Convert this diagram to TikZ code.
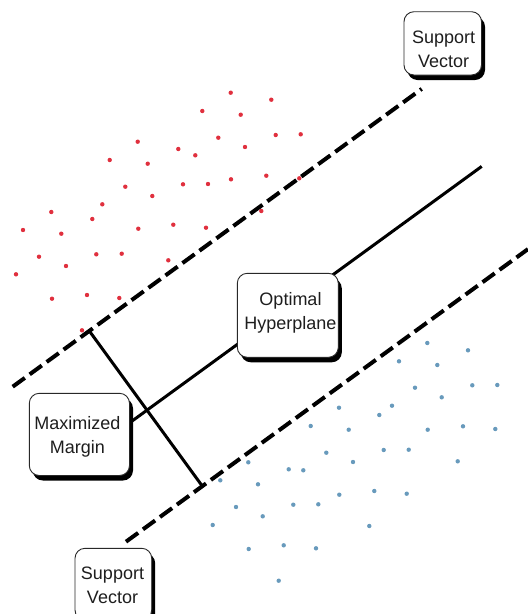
\documentclass[tikz,border=0pt]{standalone}
\usepackage{fontspec}
\setmainfont{Liberation Sans}
\usetikzlibrary{shadows}
\definecolor{ptred}{RGB}{224,48,62}
\definecolor{ptblue}{RGB}{104,154,188}
\definecolor{boxline}{RGB}{40,40,40}
\definecolor{txt}{RGB}{30,30,30}
\tikzset{
  card/.style={draw=boxline, line width=0.9pt, fill=white, rounded corners=10pt,
    inner sep=0pt,
    drop shadow={shadow xshift=3.5pt, shadow yshift=-5pt, fill=black, opacity=1}},
  cardtext/.style={align=center, text=txt, inner sep=0pt,
    font=\fontsize{18}{24.5}\selectfont},
  marginline/.style={line width=4pt, dash pattern=on 15pt off 6pt},
  hyperline/.style={line width=3pt},
  gapline/.style={line width=3pt},
}
\begin{document}
\begin{tikzpicture}[x=1pt, y=-1pt]
\useasboundingbox (0,0) rectangle (528,614);
\clip (0,0) rectangle (528,614);

% the two margin lines, the hyperplane and the margin width
\coordinate (upA) at (12.7,386.7);
\coordinate (upB) at (421.7,88.9);
\coordinate (loA) at (126,541.7);
\coordinate (loB) at (528,249.1);
\coordinate (hpA) at (128,424);
\coordinate (hpB) at (481.7,166.4);
\coordinate (gapA) at (89.3,330.9);
\coordinate (gapB) at (202.3,486.1);

\draw[marginline] (upA) -- (upB);
\draw[marginline] (loA) -- (loB);
\draw[hyperline] (hpA) -- (hpB);
\draw[gapline] (gapA) -- (gapB);

% class one
\foreach \px/\py in {
  230.7/92.7, 271.3/99.7, 202.3/111, 240.7/114.7, 137.7/141.7, 275.7/135,
  300.7/134.3, 218.3/137.7, 245/147, 178.3/149, 195.3/155.3, 109.7/160,
  147.7/163.7, 125.3/186.7, 183/184.3, 208/184, 231/179.3, 266.3/175.7,
  299.3/178.3, 152.3/196, 102.3/204.3, 51.3/212, 261.3/211, 92.3/219,
  23/230, 61.3/233.7, 138.3/228.7, 173.3/224.7, 206/227.7, 39/256.7,
  96.3/254.3, 121.7/253.7, 66/266, 168.3/260.3, 16/274.3, 52/298.7,
  87/295, 119.3/298, 82/330.3}
  \fill[ptred] (\px,\py) circle[radius=2.2pt];

% class two
\foreach \px/\py in {
  427.3/343, 468/350.3, 399/361.3, 437.3/365, 472.3/385.3, 497.3/385,
  415/387.7, 441.7/397.3, 339/407.7, 392/405.7, 379.3/415, 310.7/426,
  348.7/429.7, 427.7/429.7, 463/426.3, 495.3/429, 326.3/452.7, 383.7/450,
  408.7/449.7, 248.3/462.3, 353/462, 457.7/461.3, 288.7/469.3, 303.3/470.3,
  220.3/480.3, 258/484.3, 339.3/494.7, 374.3/491, 406.7/493.7, 236/507,
  293.3/504.7, 318.3/504.3, 262.7/516.3, 369.3/526, 212.7/525, 248.7/549,
  283.7/545.3, 316/548.3, 278.7/580.7}
  \fill[ptblue] (\px,\py) circle[radius=2.2pt];

% labels
\node[card, minimum width=77.5pt, minimum height=63.3pt] (svtop) at (442.75,43.35) {};
\node[cardtext] (svtopT) at (443.7,49.05) {Support\\Vector};

\node[card, minimum width=101pt, minimum height=84pt] (opt) at (287.8,315.3) {};
\node[cardtext] (optT) at (290.5,312.65) {Optimal\\Hyperplane};

\node[card, minimum width=100.2pt, minimum height=82.2pt] (mm) at (79.4,434.4) {};
\node[cardtext] (mmT) at (77.5,436.95) {Maximized\\Margin};

\node[card, minimum width=76.7pt, minimum height=71.7pt] (svbot) at (113.35,584.15) {};
\node[cardtext] (svbotT) at (112.5,585.05) {Support\\Vector};
\end{tikzpicture}
\end{document}
